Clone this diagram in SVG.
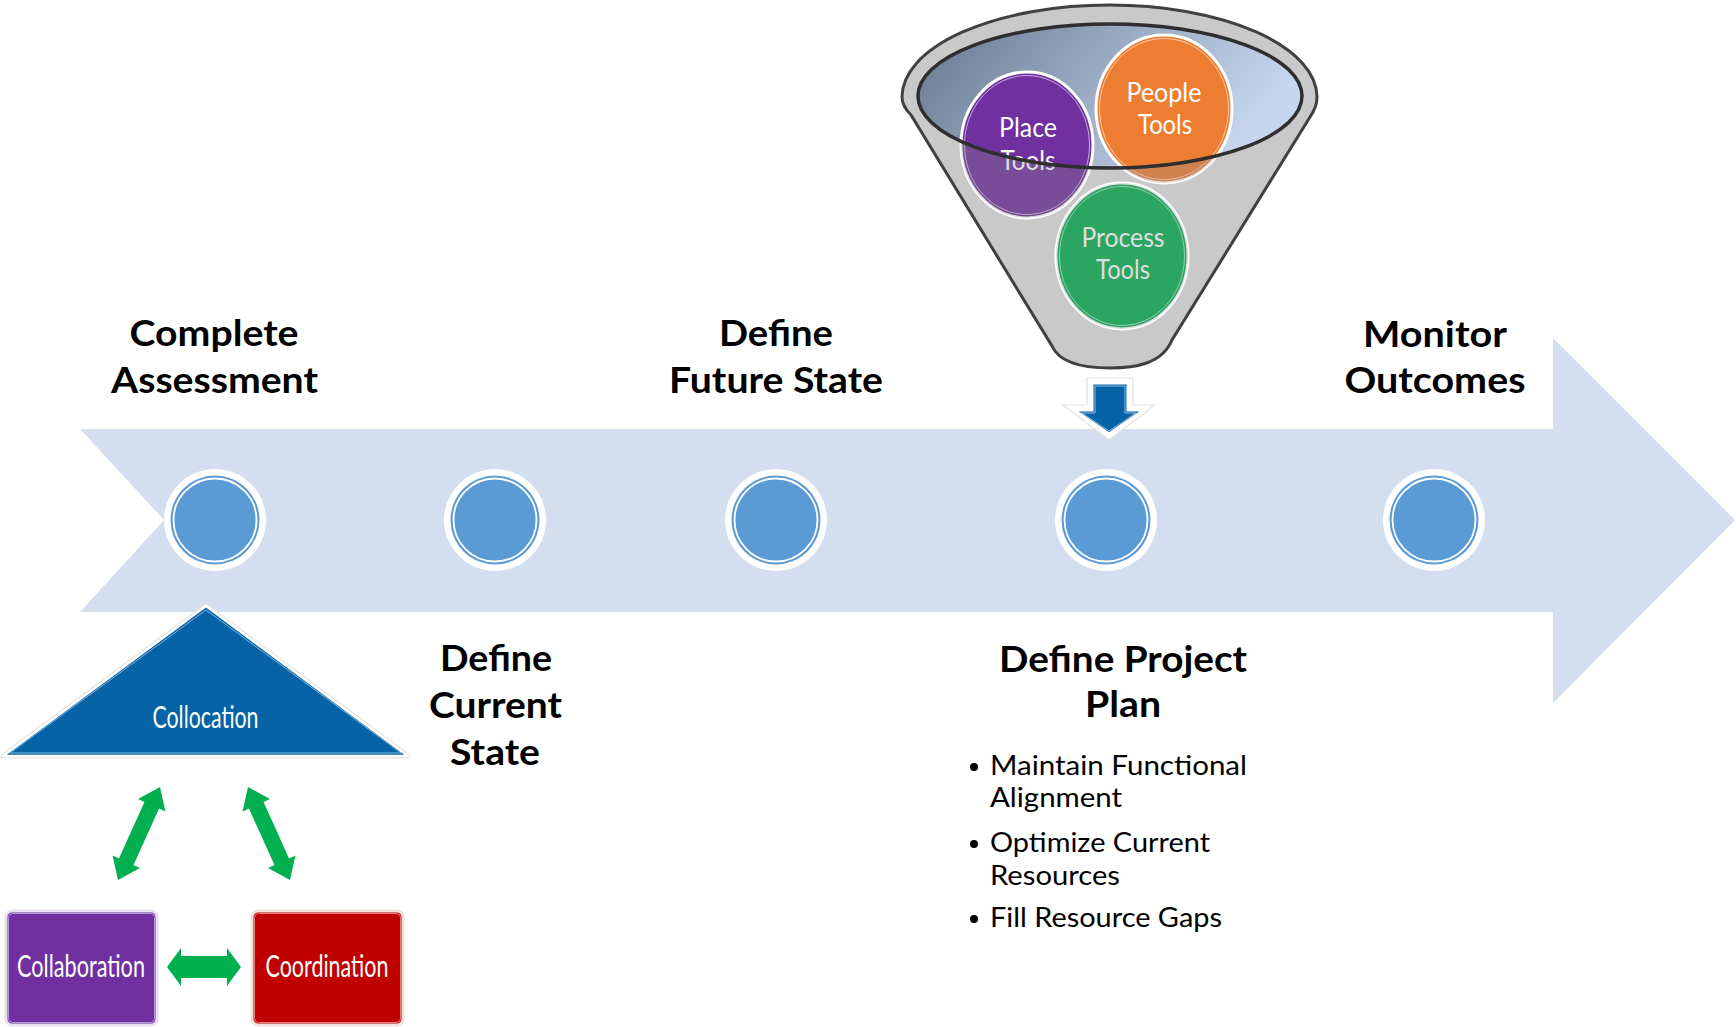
<svg xmlns="http://www.w3.org/2000/svg" width="1736" height="1027" viewBox="0 0 1736 1027">
<style>
.h{font-family:Lato,"Open Sans","Liberation Sans",sans-serif;font-weight:700;font-size:36px;fill:#000;text-anchor:middle}
.b{font-family:Lato,"Open Sans","Liberation Sans",sans-serif;font-size:26px;fill:#000}
.w{font-family:Lato,"Open Sans","Liberation Sans",sans-serif;font-size:30px;fill:#fff;text-anchor:middle}
.ft{font-family:Lato,"Open Sans","Liberation Sans",sans-serif;font-size:26px;fill:#fff;text-anchor:middle}
.halo{fill:#fff}
.dot{fill:#5B9BD5}
.ring{fill:none;stroke:#fff;stroke-width:1.8}
.garrow{fill:#00B050}
</style>
<defs>
<linearGradient id="bowl" x1="0" y1="0" x2="1" y2="0.3">
<stop offset="0" stop-color="#66788F"/>
<stop offset="0.5" stop-color="#97A8C0"/>
<stop offset="1" stop-color="#C6D6EF"/>
</linearGradient>
<clipPath id="tools">
<ellipse cx="1027" cy="145" rx="66" ry="73"/>
<ellipse cx="1164" cy="109" rx="68" ry="74"/>
<ellipse cx="1122" cy="256" rx="66" ry="73"/>
</clipPath>
<polygon id="dbl" points="-51,0 -31,-15 -31,-8 31,-8 31,-15 51,0 31,15 31,8 -31,8 -31,15"/>
</defs>
<rect width="1736" height="1027" fill="#fff"/>

<g id="timeline-arrow">
<polygon points="80,429 1553,429 1553,338 1735,520 1553,703 1553,612 80,612 164,520" fill="#D3DEEF"/>
</g>

<g id="step-complete-assessment">
<text class="h" x="214" y="346" textLength="169" lengthAdjust="spacingAndGlyphs">Complete</text>
<text class="h" x="214.5" y="393" textLength="207" lengthAdjust="spacingAndGlyphs">Assessment</text>
<circle class="halo" cx="215" cy="520" r="51"/><circle class="dot" cx="215" cy="520" r="44.5"/><circle class="ring" cx="215" cy="520" r="41.5"/>
</g>
<g id="step-define-current-state">
<circle class="halo" cx="495" cy="520" r="51"/><circle class="dot" cx="495" cy="520" r="44.5"/><circle class="ring" cx="495" cy="520" r="41.5"/>
<text class="h" x="496" y="671" textLength="112" lengthAdjust="spacingAndGlyphs">Define</text>
<text class="h" x="495.5" y="718" textLength="133" lengthAdjust="spacingAndGlyphs">Current</text>
<text class="h" x="495" y="765" textLength="90" lengthAdjust="spacingAndGlyphs">State</text>
</g>
<g id="step-define-future-state">
<text class="h" x="776" y="346" textLength="114" lengthAdjust="spacingAndGlyphs">Define</text>
<text class="h" x="776" y="393" textLength="214" lengthAdjust="spacingAndGlyphs">Future State</text>
<circle class="halo" cx="776" cy="520" r="51"/><circle class="dot" cx="776" cy="520" r="44.5"/><circle class="ring" cx="776" cy="520" r="41.5"/>
</g>
<g id="step-define-project-plan">
<circle class="halo" cx="1106" cy="520" r="51"/><circle class="dot" cx="1106" cy="520" r="44.5"/><circle class="ring" cx="1106" cy="520" r="41.5"/>
<text class="h" x="1123" y="672" textLength="248" lengthAdjust="spacingAndGlyphs">Define Project</text>
<text class="h" x="1123" y="717" textLength="76" lengthAdjust="spacingAndGlyphs">Plan</text>
<circle cx="974" cy="767" r="4" fill="#000"/>
<text class="b" x="990" y="775" textLength="257" lengthAdjust="spacingAndGlyphs">Maintain Functional</text>
<text class="b" x="990" y="807" textLength="132" lengthAdjust="spacingAndGlyphs">Alignment</text>
<circle cx="974" cy="844" r="4" fill="#000"/>
<text class="b" x="990" y="852" textLength="220" lengthAdjust="spacingAndGlyphs">Optimize Current</text>
<text class="b" x="990" y="885" textLength="130" lengthAdjust="spacingAndGlyphs">Resources</text>
<circle cx="974" cy="919" r="4" fill="#000"/>
<text class="b" x="990" y="927" textLength="232" lengthAdjust="spacingAndGlyphs">Fill Resource Gaps</text>
</g>
<g id="step-monitor-outcomes">
<text class="h" x="1435" y="347" textLength="144" lengthAdjust="spacingAndGlyphs">Monitor</text>
<text class="h" x="1435" y="393" textLength="181" lengthAdjust="spacingAndGlyphs">Outcomes</text>
<circle class="halo" cx="1434" cy="520" r="51"/><circle class="dot" cx="1434" cy="520" r="44.5"/><circle class="ring" cx="1434" cy="520" r="41.5"/>
</g>

<g id="funnel">
<path d="M 902,97 A 207.5,92 0 0 1 1317,97 Q 1317,107 1310,117 L 1172,340 C 1162,364 1135,368 1110,368 C 1085,368 1060,364 1052,346 L 911,115 Q 902,106 902,97 Z" fill="#C9C9C9" stroke="#404040" stroke-width="3"/>
<ellipse cx="1110" cy="96" rx="192" ry="72" fill="url(#bowl)"/>
<g id="place-tools">
<ellipse cx="1027" cy="145" rx="66" ry="73" fill="#7030A0" stroke="#fff" stroke-width="3"/>
<ellipse cx="1027" cy="145" rx="62.5" ry="69.5" fill="none" stroke="#fff" stroke-opacity="0.6" stroke-width="1"/>
<text class="ft" x="1028" y="137" textLength="58" lengthAdjust="spacingAndGlyphs">Place</text>
<text class="ft" x="1028" y="170" textLength="55" lengthAdjust="spacingAndGlyphs">Tools</text>
</g>
<g id="people-tools">
<ellipse cx="1164" cy="109" rx="68" ry="74" fill="#ED7D31" stroke="#fff" stroke-width="3"/>
<ellipse cx="1164" cy="109" rx="64.5" ry="70.5" fill="none" stroke="#fff" stroke-opacity="0.6" stroke-width="1"/>
<text class="ft" x="1164" y="102" textLength="75" lengthAdjust="spacingAndGlyphs">People</text>
<text class="ft" x="1165" y="134" textLength="54" lengthAdjust="spacingAndGlyphs">Tools</text>
</g>
<g id="process-tools">
<ellipse cx="1122" cy="256" rx="66" ry="73" fill="#00B050" stroke="#fff" stroke-width="3"/>
<ellipse cx="1122" cy="256" rx="62.5" ry="69.5" fill="none" stroke="#fff" stroke-opacity="0.6" stroke-width="1"/>
<text class="ft" x="1123" y="247" textLength="83" lengthAdjust="spacingAndGlyphs">Process</text>
<text class="ft" x="1123" y="279" textLength="54" lengthAdjust="spacingAndGlyphs">Tools</text>
</g>
<path clip-path="url(#tools)" fill-rule="evenodd" fill="#8F8F8F" fill-opacity="0.3" d="M 880,0 L 1340,0 L 1340,380 L 880,380 Z M 918,96 A 192,72 0 1 0 1302,96 A 192,72 0 1 0 918,96 Z"/>
<ellipse cx="1110" cy="96" rx="192" ry="72" fill="none" stroke="#2E2E2E" stroke-width="3.5"/>
</g>

<g id="collocation">
<polygon points="206,606 408,756 3,756" fill="#0563A6" stroke="#E4E4E4" stroke-width="5" stroke-linejoin="round"/>
<polygon points="206,606 408,756 3,756" fill="#0563A6" stroke="#fff" stroke-width="2.5" stroke-linejoin="round"/>
<polygon points="206,610 401,753 10,753" fill="none" stroke="#7FB2DE" stroke-width="1"/>
<text class="w" x="205.5" y="728" textLength="106" lengthAdjust="spacingAndGlyphs">Collocation</text>
</g>
<g id="collaboration">
<rect x="6" y="911" width="151" height="114" rx="6" fill="#7030A0" stroke="#E8E0F0" stroke-width="3"/>
<rect x="8.5" y="913.5" width="146" height="109" rx="4" fill="none" stroke="#B597D3" stroke-width="1"/>
<text class="w" x="81" y="977" textLength="128" lengthAdjust="spacingAndGlyphs">Collaboration</text>
</g>
<g id="coordination">
<rect x="252" y="911" width="151" height="114" rx="6" fill="#C00000" stroke="#F2E0E0" stroke-width="3"/>
<rect x="254.5" y="913.5" width="146" height="109" rx="4" fill="none" stroke="#E57A7A" stroke-width="1"/>
<text class="w" x="327" y="977" textLength="123" lengthAdjust="spacingAndGlyphs">Coordination</text>
</g>

<g id="connectors">
<use href="#dbl" class="garrow" transform="translate(139,833.5) rotate(-65.7)"/>
<use href="#dbl" class="garrow" transform="translate(269,833.5) rotate(-114.3)"/>
<polygon class="garrow" points="167,967 181,948 181,956 227,956 227,948 241,967 227,986 227,978 181,978 181,986"/>
<g id="funnel-to-plan">
<polygon points="1087,378 1133,378 1133,405 1155,405 1109,440 1063,405 1087,405" fill="#fff" stroke="#E2E2E2" stroke-width="1.2"/>
<polygon points="1092,383 1128,383 1128,410 1144,410 1109,434 1074,410 1092,410" fill="#0563A6" stroke="#fff" stroke-width="3" stroke-linejoin="miter"/>
<polygon points="1095,386 1125,386 1125,413 1136,413 1109,431 1082,413 1095,413" fill="none" stroke="#8DBBE3" stroke-width="1"/>
</g>
</g>
</svg>
